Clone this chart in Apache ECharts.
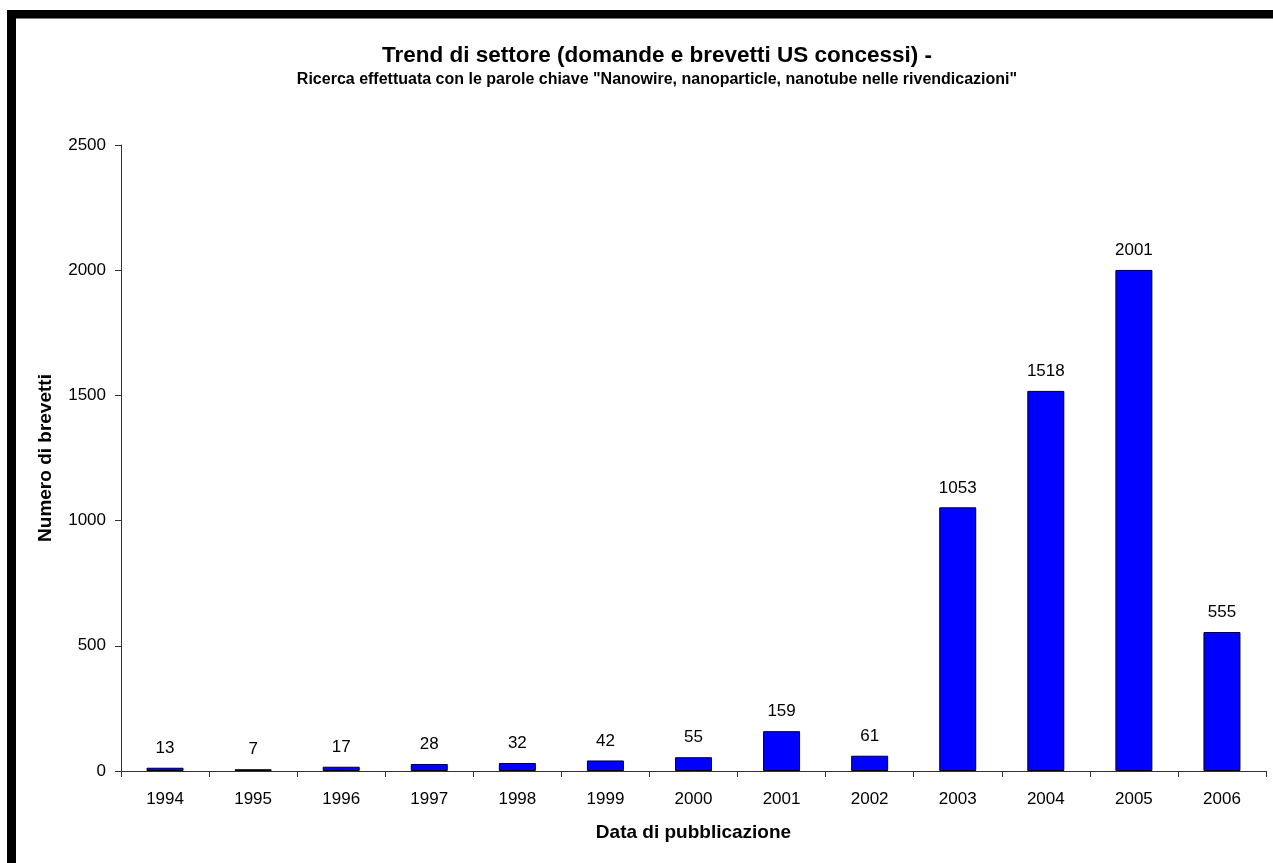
<!DOCTYPE html>
<html>
<head>
<meta charset="utf-8">
<title>Trend di settore</title>
<script src="https://cdn.jsdelivr.net/npm/echarts@6/dist/echarts.min.js"></script>
<style>
  html, body { margin: 0; padding: 0; background: #fff; }
  #chart { position: absolute; left: 0; top: 0; width: 1273px; height: 863px; }
  .frame-top { position: absolute; left: 7px; top: 10px; width: 1266px; height: 8px; background: #000; border-bottom: 1px solid #777; }
  .frame-left { position: absolute; left: 7px; top: 10px; width: 9px; height: 853px; background: #000; }
</style>
</head>
<body>
<div id="chart"></div>
<div class="frame-top"></div>
<div class="frame-left"></div>
<script>
// Anni di pubblicazione e numero di brevetti
const years = ['1994', '1995', '1996', '1997', '1998', '1999', '2000', '2001', '2002', '2003', '2004', '2005', '2006'];
const patents = [13, 7, 17, 28, 32, 42, 55, 159, 61, 1053, 1518, 2001, 555];
const yTicks = [0, 500, 1000, 1500, 2000, 2500];

const FONT = '"Liberation Sans", Arial, sans-serif';
const chart = echarts.init(document.getElementById('chart'));

chart.setOption({
  animation: false,
  backgroundColor: '#ffffff',
  title: {
    text: 'Trend di settore (domande e brevetti US concessi) -',
    subtext: 'Ricerca effettuata con le parole chiave "Nanowire, nanoparticle, nanotube nelle rivendicazioni"',
    left: 652,
    textAlign: 'center',
    top: 39,
    itemGap: 5,
    textStyle: { fontFamily: FONT, fontSize: 22.5, fontWeight: 'bold', color: '#000' },
    subtextStyle: { fontFamily: FONT, fontSize: 16, fontWeight: 'bold', color: '#000' }
  },
  grid: { left: 121, right: 7, top: 145, bottom: 92, containLabel: false },
  xAxis: {
    type: 'category',
    data: years,
    boundaryGap: true,
    name: 'Data di pubblicazione',
    nameLocation: 'middle',
    nameGap: 52,
    nameTextStyle: { fontFamily: FONT, fontSize: 19, fontWeight: 'bold', color: '#000' },
    axisLine: { lineStyle: { color: '#333', width: 1 } },
    axisTick: { show: true, alignWithLabel: false, length: 6, lineStyle: { color: '#333' } },
    axisLabel: { fontFamily: FONT, fontSize: 17, color: '#000', margin: 20 },
    splitLine: { show: false }
  },
  yAxis: {
    type: 'value',
    min: yTicks[0],
    max: yTicks[yTicks.length - 1],
    interval: yTicks[1] - yTicks[0],
    name: 'Numero di brevetti',
    nameLocation: 'middle',
    nameGap: 66,
    nameRotate: 90,
    nameTextStyle: { fontFamily: FONT, fontSize: 19, fontWeight: 'bold', color: '#000' },
    axisLine: { show: true, lineStyle: { color: '#333', width: 1 } },
    axisTick: { show: true, length: 6, lineStyle: { color: '#333' } },
    axisLabel: { fontFamily: FONT, fontSize: 17, color: '#000', margin: 15, formatter: v => String(v) },
    splitLine: { show: false }
  },
  series: [{
    type: 'bar',
    data: patents,
    barWidth: '42%',
    itemStyle: { color: '#0000ff', borderColor: '#000', borderWidth: 1 },
    label: {
      show: true,
      position: 'top',
      distance: 11,
      fontFamily: FONT,
      fontSize: 17,
      color: '#000'
    }
  }]
});
</script>
</body>
</html>
